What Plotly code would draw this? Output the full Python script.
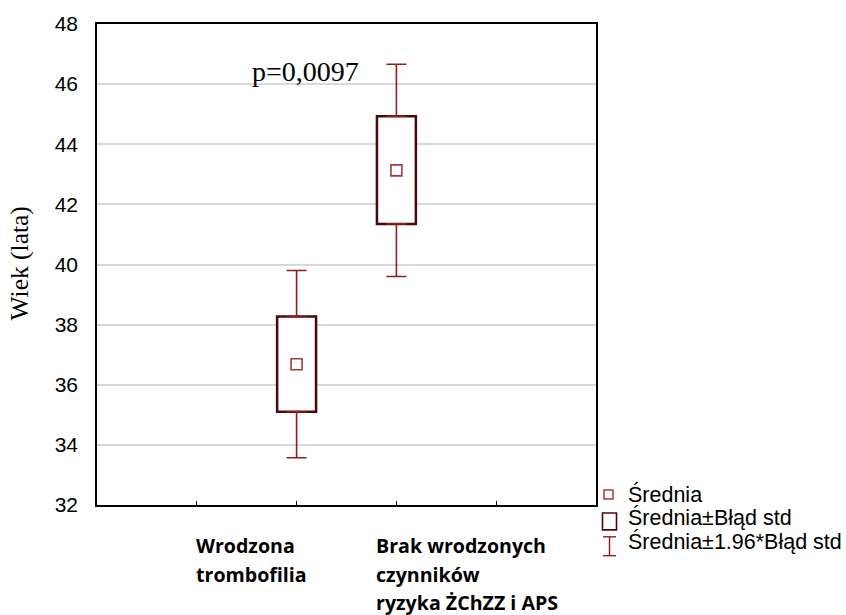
import plotly.graph_objects as go

# ---- data ----
groups = ["Wrodzona trombofilia", "Brak wrodzonych czynników ryzyka ŻChZZ i APS"]
group_pos = [2, 3]
means = [36.68, 43.13]
se_low = [35.10, 41.35]
se_high = [38.27, 44.93]
ci_low = [33.57, 39.60]
ci_high = [39.80, 46.66]
p_text = "p=0,0097"
y_ticks = [32, 34, 36, 38, 40, 42, 44, 46, 48]
x_ticks = [1, 2, 3, 4]

label_lines = [["Wrodzona", "trombofilia"],
               ["Brak wrodzonych", "czynników", "ryzyka ŻChZZ i APS"]]
legend_labels = ["Średnia", "Średnia±Błąd std", "Średnia±1.96*Błąd std"]

BOX_C = "#4a0808"
WHISK_C = "#951c1c"
MEAN_C = "#a8383a"

fig = go.Figure()

# boxes (mean ± SE)
fig.add_trace(go.Bar(
    x=group_pos, base=se_low,
    y=[h - l for h, l in zip(se_high, se_low)],
    width=0.39,
    marker=dict(color="white", line=dict(color=BOX_C, width=2.5)),
    showlegend=False, hoverinfo="skip"))

# whiskers upper
fig.add_trace(go.Scatter(
    x=group_pos, y=se_high, mode="markers",
    marker=dict(size=0.1, color="rgba(0,0,0,0)"),
    error_y=dict(type="data", symmetric=False,
                 array=[h - b for h, b in zip(ci_high, se_high)],
                 arrayminus=[0, 0], color=WHISK_C, thickness=1.6, width=10),
    showlegend=False, hoverinfo="skip"))
# whiskers lower
fig.add_trace(go.Scatter(
    x=group_pos, y=se_low, mode="markers",
    marker=dict(size=0.1, color="rgba(0,0,0,0)"),
    error_y=dict(type="data", symmetric=False,
                 array=[0, 0],
                 arrayminus=[b - l for b, l in zip(se_low, ci_low)],
                 color=WHISK_C, thickness=1.6, width=10),
    showlegend=False, hoverinfo="skip"))

# means
fig.add_trace(go.Scatter(
    x=group_pos, y=means, mode="markers",
    marker=dict(symbol="square-open", size=11, color=MEAN_C, line=dict(width=1.6)),
    showlegend=False, hoverinfo="skip"))

L, R, T, B = 97, 250, 21, 110
W, H = 846, 615
pw, ph = W - L - R, H - T - B

def px_x(px):
    return (px - L) / pw

def px_y(py):
    return (H - B - py) / ph

annotations = []
# p-value
annotations.append(dict(text=p_text, x=1.53, y=46.42, xref="x", yref="y",
                        xanchor="left", yanchor="middle", showarrow=False,
                        font=dict(family="Liberation Serif", size=28, color="black")))
# y title
annotations.append(dict(text="Wiek (lata)", x=px_x(20), y=px_y(262), xref="paper", yref="paper",
                        textangle=-90, showarrow=False, xanchor="center", yanchor="middle",
                        font=dict(family="Liberation Serif", size=25.5, color="black")))
# category labels
label_left = [194, 374]
line_y = [546, 575, 603]
for lines, lx in zip(label_lines, label_left):
    for i, t in enumerate(lines):
        annotations.append(dict(text="<b>" + t + "</b>", x=px_x(lx), y=px_y(line_y[i]),
                                xref="paper", yref="paper", xanchor="left", yanchor="middle",
                                showarrow=False,
                                font=dict(family="Open Sans", size=19.6, color="black")))
# legend text
leg_y = [494, 518, 542]
for t, ly in zip(legend_labels, leg_y):
    annotations.append(dict(text=t, x=px_x(626), y=px_y(ly), xref="paper", yref="paper",
                            xanchor="left", yanchor="middle", showarrow=False,
                            font=dict(family="Liberation Sans", size=21.5, color="black")))

shapes = []
# legend symbols
shapes.append(dict(type="rect", xref="paper", yref="paper",
                   x0=px_x(604), x1=px_x(613), y0=px_y(499), y1=px_y(490),
                   line=dict(color=MEAN_C, width=1.5), fillcolor="white"))
shapes.append(dict(type="rect", xref="paper", yref="paper",
                   x0=px_x(602.5), x1=px_x(616.5), y0=px_y(530), y1=px_y(513),
                   line=dict(color=BOX_C, width=1.6), fillcolor="white"))
for (x0, y0, x1, y1) in [(609.5, 537, 609.5, 556), (603, 537, 616, 537), (603, 556, 616, 556)]:
    shapes.append(dict(type="line", xref="paper", yref="paper",
                       x0=px_x(x0), x1=px_x(x1), y0=px_y(y0), y1=px_y(y1),
                       line=dict(color=WHISK_C, width=1.4)))

fig.update_layout(
    width=W, height=H,
    margin=dict(l=L, r=R, t=T, b=B, pad=0),
    paper_bgcolor="white", plot_bgcolor="white",
    showlegend=False,
    annotations=annotations, shapes=shapes,
    xaxis=dict(range=[0, 5], tickvals=x_ticks, ticktext=["", "", "", ""],
               ticks="inside", ticklen=4, tickcolor="black", tickwidth=1,
               showgrid=False, zeroline=False,
               showline=True, linecolor="black", linewidth=1.6, mirror=True),
    yaxis=dict(range=[32, 48], tickvals=y_ticks,
               ticks="", showgrid=True, gridcolor="#d9d9d9", gridwidth=1.5,
               zeroline=False, showline=True, linecolor="black", linewidth=1.6, mirror=True,
               tickfont=dict(family="Liberation Sans", size=21, color="black"),
               ticklabelstandoff=13),
)

fig.write_html("out.html")
